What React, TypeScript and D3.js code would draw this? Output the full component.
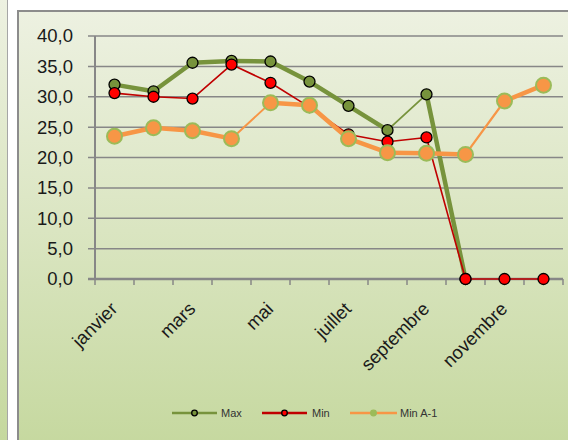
import React from 'react';
import * as d3 from 'd3';

const months = ['janvier', 'février', 'mars', 'avril', 'mai', 'juin', 'juillet', 'août', 'septembre', 'octobre', 'novembre', 'décembre'];
const maxValues = [32.0, 30.9, 35.6, 35.9, 35.8, 32.5, 28.5, 24.5, 30.4, 0, null, null];
const minValues = [30.6, 30.0, 29.7, 35.3, 32.3, 28.3, 23.8, 22.6, 23.3, 0, 0, 0];
const minPrevValues = [23.5, 24.9, 24.4, 23.1, 29.0, 28.6, 23.1, 20.8, 20.7, 20.5, 29.3, 31.9];
const yTicks = [0, 5, 10, 15, 20, 25, 30, 35, 40];

// épaisseur des segments (index = segment i -> i+1)
const maxWidths = [4.5, 4.5, 4.5, 4.5, 4.5, 4.5, 4.5, 1.8, 4.5];
const minPrevWidths = [4.5, 4.5, 4.5, 2, 4.5, 4.5, 4.5, 4.5, 4.5, 2.2, 4.5];

const W = 568;
const H = 440;
const FONT = '"Liberation Sans", Arial, sans-serif';

type Series = {
  name: string;
  values: (number | null)[];
  color: string;
  widths: number[] | null;
  thin: number;
  r: number;
  fill: string;
  stroke: string;
  strokeW: number;
};

const series: Series[] = [
  { name: 'Max', values: maxValues, color: '#77933C', widths: maxWidths, thin: 4.5, r: 5.5, fill: '#77933C', stroke: '#000', strokeW: 1.3 },
  { name: 'Min', values: minValues, color: '#C00000', widths: null, thin: 1.6, r: 5.5, fill: '#FF0000', stroke: '#000', strokeW: 1.3 },
  { name: 'Min A-1', values: minPrevValues, color: '#F79646', widths: minPrevWidths, thin: 4.5, r: 7.5, fill: '#F79646', stroke: '#9BBB59', strokeW: 2 },
];

export default function App() {
  const x = d3.scaleBand<string>().domain(months).range([95, 563]);
  const y = d3.scaleLinear().domain([0, 40]).range([279, 36]);
  const cx = (i: number) => (x(months[i]) as number) + x.bandwidth() / 2;
  const line = d3.line<[number, number]>();

  const legend = [
    { s: series[0], x1: 172, x2: 217, tx: 221 },
    { s: series[1], x1: 262, x2: 307, tx: 312 },
    { s: series[2], x1: 350, x2: 397, tx: 400 },
  ];

  return (
    <svg width={W} height={H} style={{ position: 'absolute', left: 0, top: 0 }} fontFamily={FONT}>
      <defs>
        <linearGradient id="bg" x1="0" y1="0" x2="0" y2="1">
          <stop offset="0" stopColor="#EDF1E1" />
          <stop offset="0.5" stopColor="#DAE5C1" />
          <stop offset="1" stopColor="#C5D89E" />
        </linearGradient>
      </defs>
      <rect x={0} y={0} width={W} height={H} fill="#fff" />
      <rect x={0} y={0} width={7} height={H} fill="url(#bg)" />
      <line x1={7.5} x2={7.5} y1={0} y2={H} stroke="#A6A6A6" strokeWidth={1} />
      <rect x={18} y={11} width={W} height={H} fill="url(#bg)" stroke="#8C8C8C" strokeWidth={2} />

      {/* grille */}
      {yTicks.map(t => (
        <line key={t} x1={88} x2={563} y1={y(t)} y2={y(t)} stroke="#878787" strokeWidth={t === 0 ? 2.5 : 1.5} />
      ))}
      <line x1={95} x2={95} y1={y(40)} y2={y(0)} stroke="#878787" strokeWidth={2} />
      {months.map((m, i) => (
        <line key={m} x1={x(m) as number} x2={x(m) as number} y1={y(0)} y2={y(0) + 6} stroke="#878787" strokeWidth={1.5} />
      ))}
      <line x1={563} x2={563} y1={y(0)} y2={y(0) + 6} stroke="#878787" strokeWidth={1.5} />

      {yTicks.map(t => (
        <text key={t} x={73} y={y(t)} dy="0.35em" textAnchor="end" fontSize={18.5} fill="#1a1a1a">
          {d3.format('.1f')(t).replace('.', ',')}
        </text>
      ))}
      {months.map((m, i) => i % 2 === 0 ? (
        <text key={m} transform={`translate(${cx(i) + 4},${310}) rotate(-45)`} textAnchor="end" fontSize={18.5} fill="#1a1a1a">
          {m}
        </text>
      ) : null)}

      {series.map(s => (
        <g key={s.name}>
          {s.values.slice(0, -1).map((v, i) => {
            const n = s.values[i + 1];
            if (v == null || n == null) return null;
            const w = s.widths ? s.widths[i] : s.thin;
            return (
              <path key={i} d={line([[cx(i), y(v)], [cx(i + 1), y(n)]]) as string}
                stroke={s.color} strokeWidth={w} fill="none" strokeLinecap="round" />
            );
          })}
          {s.values.map((v, i) => v == null ? null : (
            <circle key={i} cx={cx(i)} cy={y(v)} r={s.r} fill={s.fill} stroke={s.stroke} strokeWidth={s.strokeW} />
          ))}
        </g>
      ))}

      {legend.map(({ s, x1, x2, tx }) => (
        <g key={s.name}>
          <line x1={x1} x2={x2} y1={413} y2={413} stroke={s.color} strokeWidth={2.5} />
          <circle cx={(x1 + x2) / 2} cy={413} r={2.8}
            fill={s.name === 'Min A-1' ? '#9BBB59' : s.fill}
            stroke={s.name === 'Min A-1' ? '#9BBB59' : '#000'} strokeWidth={1.3} />
          <text x={tx} y={413} dy="0.35em" fontSize={11} fill="#333">{s.name}</text>
        </g>
      ))}
    </svg>
  );
}
